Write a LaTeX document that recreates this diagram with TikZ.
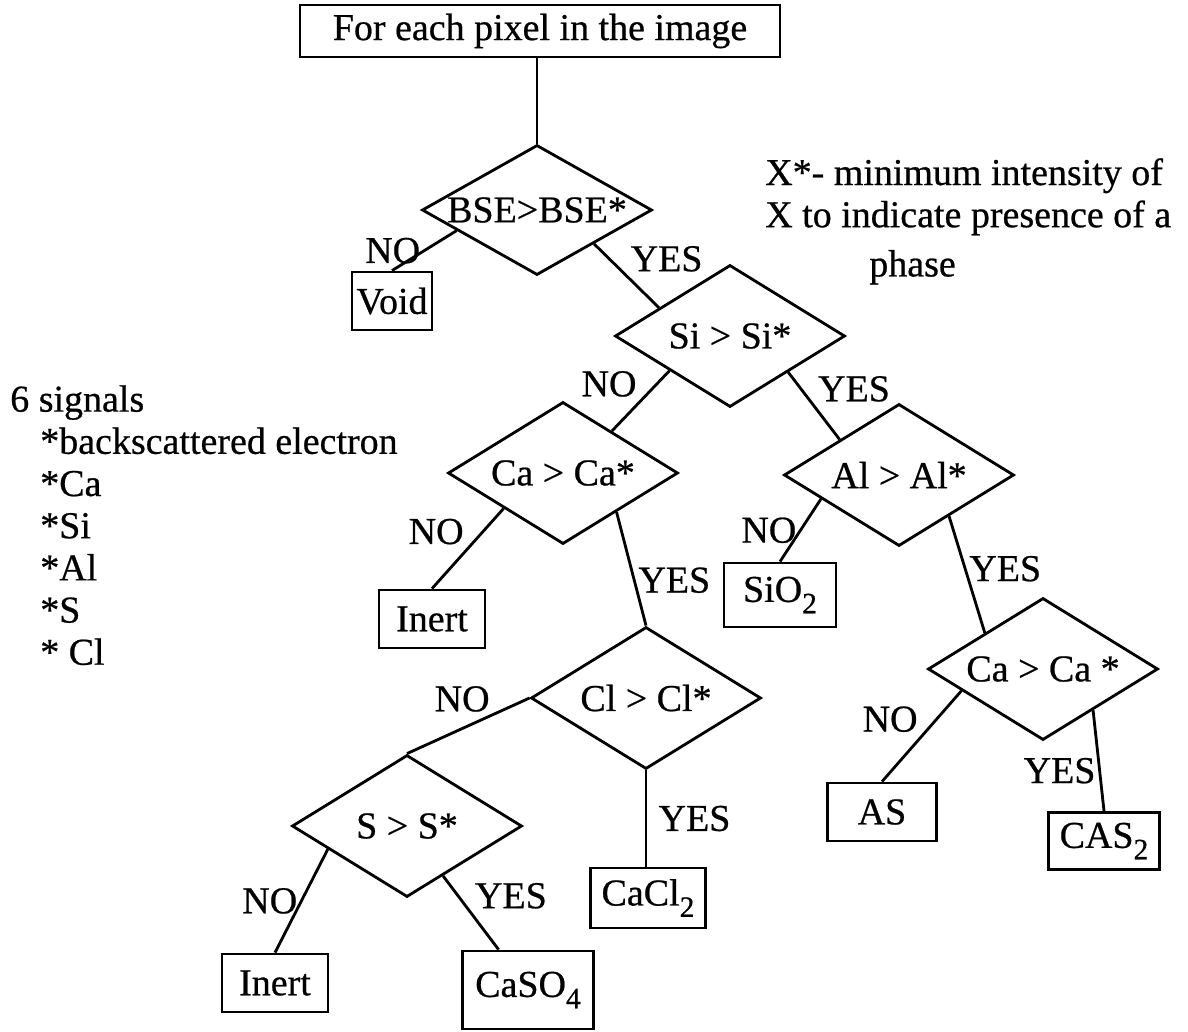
\documentclass[tikz,border=0pt]{standalone}
\usepackage{fontspec}
\setmainfont{Liberation Serif}[UprightFeatures={FakeBold=0.6}]
\usetikzlibrary{shapes.geometric,calc}
\tikzset{
x=0.025cm, y=-0.025cm,
query/.style={diamond,draw=black,line width=2pt,minimum width=5.75cm,minimum height=3.55cm,inner sep=0pt},
phase/.style={rectangle,draw=black,line width=2pt,minimum width=2.65cm,minimum height=1.45cm,inner xsep=8pt},
answer/.style={inner sep=2pt},
link/.style={line width=2pt,draw=black},
}
\tikzstyle{legend} = [align=left, anchor=north west, inner sep=0pt]
\newcommand{\qtext}[1]{\makebox[0pt]{#1}}
\newcommand{\chemsub}[1]{\raisebox{-0.3em}{\fontsize{21pt}{21pt}\selectfont #1}}

\begin{document}
\begin{tikzpicture}[font=\fontsize{27pt}{30pt}\selectfont]
\useasboundingbox (0,0) rectangle (1188,1031);

\node[phase,minimum width=12cm,minimum height=1.3cm] (start) at (540,31) {For each pixel in the image};

\node[query,minimum height=3.25cm] (bse) at (537,210) {\qtext{BSE>BSE*}};
\node[phase,minimum width=2cm,inner xsep=2pt] (void) at (392,301) {Void};
\node[query] (si) at (730,336) {\qtext{Si > Si*}};
\node[query] (cal) at (563,473) {\qtext{Ca > Ca*}};
\node[query] (al) at (899,475) {\qtext{Al > Al*}};
\node[phase] (inert1) at (432,619) {Inert};
\node[phase,minimum width=2.8cm,minimum height=1.6cm] (sio2) at (780,595) {SiO\chemsub{2}};
\node[query] (cl) at (646,698) {\qtext{Cl > Cl*}};
\node[query] (car) at (1043,669) {\qtext{Ca > Ca *}};
\node[query] (s) at (407,826) {\qtext{S > S*}};
\node[phase,minimum width=2.8cm,minimum height=1.5cm] (cacl2) at (648,898) {CaCl\chemsub{2}};
\node[phase,minimum width=2.72cm] (as) at (882,812) {AS};
\node[phase,minimum height=1.43cm] (cas2) at (1104,841) {CAS\chemsub{2}};
\node[phase] (inert2) at (275,983) {Inert};
\node[phase,minimum width=3.27cm,minimum height=1.95cm] (caso4) at (528,990) {CaSO\chemsub{4}};

\node[legend] (note) at (765,158) {X*- minimum intensity of\\X to indicate presence of a\\[5pt]\hspace*{2.6cm}phase};
\node[legend] (signals) at (10,385) {6 signals\\\hspace*{0.75cm}*backscattered electron\\\hspace*{0.75cm}*Ca\\\hspace*{0.75cm}*Si\\\hspace*{0.75cm}*Al\\\hspace*{0.75cm}*S\\\hspace*{0.75cm}* Cl};

\draw[link] (bse.north |- start.south) -- (bse.north);
\draw[link] ($(bse.west)!0.31!(bse.south)$) -- node[answer,left] {NO} (void.north);
\draw[link] ($(bse.south)!0.49!(bse.east)$) -- node[answer,above right] {YES} ($(si.west)!0.39!(si.north)$);
\draw[link] ($(si.west)!0.48!(si.south)$) -- node[answer,above left] {NO} ($(cal.north)!0.42!(cal.east)$);
\draw[link] ($(si.south)!0.5!(si.east)$) -- node[answer,above right] {YES} ($(al.west)!0.49!(al.north)$);
\draw[link] ($(cal.west)!0.49!(cal.south)$) -- node[answer,above left] {NO} (inert1.north);
\draw[link] ($(cal.south)!0.46!(cal.east)$) -- node[answer,right,pos=0.6] {YES} (cl.north);
\draw[link] ($(al.west)!0.33!(al.south)$) -- node[answer,left] {NO} (sio2.north);
\draw[link] ($(al.south)!0.43!(al.east)$) -- node[answer,right,pos=0.45] {YES} ($(car.west)!0.5!(car.north)$);
\draw[link] (cl.west) -- node[answer,above,pos=0.55,yshift=9pt] {NO} (s.north);
\draw[link] (cl.south) -- node[answer,right,xshift=6pt] {YES} (cl.south |- cacl2.north);
\draw[link] ($(car.west)!0.3!(car.south)$) -- node[answer,above left] {NO} (as.north);
\draw[link] ($(car.south)!0.43!(car.east)$) -- node[answer,left,pos=0.6] {YES} (cas2.north);
\draw[link] ($(s.west)!0.32!(s.south)$) -- node[answer,left] {NO} (inert2.north);
\draw[link] ($(s.south)!0.31!(s.east)$) -- node[answer,above right] {YES} ($(caso4.north west)!0.28!(caso4.north east)$);
\end{tikzpicture}
\end{document}
